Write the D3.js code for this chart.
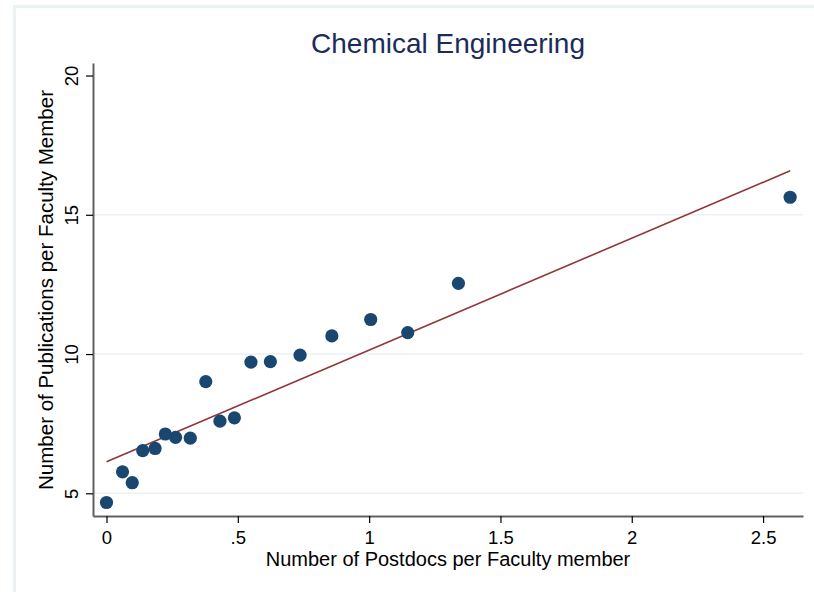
<!DOCTYPE html>
<html>
<head>
<meta charset="utf-8">
<script src="https://cdn.jsdelivr.net/npm/d3@7"></script>
<style>
  body { margin: 0; background: #fff; }
  svg { display: block; font-family: "Liberation Sans", Arial, sans-serif; }
</style>
</head>
<body>
<svg id="chart"></svg>
<script>
// postdocs per faculty member (x) and publications per faculty member (y)
const postdocs = [0, 0.061, 0.098, 0.138, 0.185, 0.224, 0.263, 0.319, 0.378, 0.432, 0.487,
                  0.55, 0.624, 0.737, 0.858, 1.006, 1.147, 1.34, 2.603];
const pubs = [4.67, 5.77, 5.38, 6.53, 6.61, 7.13, 7.01, 6.98, 9.01, 7.59, 7.71,
              9.71, 9.73, 9.96, 10.65, 11.24, 10.77, 12.54, 15.63];
// fitted line end points
const fitX = [0, 2.603];
const fitY = [6.13, 16.58];
const xTicks = [0, 0.5, 1, 1.5, 2, 2.5];
const yTicks = [5, 10, 15, 20];

const width = 814, height = 592;
const svg = d3.select("#chart").attr("width", width).attr("height", height);

// outer frame (cropped graph region border)
svg.append("rect")
   .attr("x", 14.5).attr("y", 6.5)
   .attr("width", width + 20).attr("height", height + 20)
   .attr("fill", "#fff")
   .attr("stroke", "#eaf2f3")
   .attr("stroke-width", 3);

const x = d3.scaleLinear().domain([-0.0514, 2.652]).range([93, 803]);
const y = d3.scaleLinear().domain([4.185, 20.45]).range([516, 63]);

// gridlines
svg.append("g")
   .selectAll("line")
   .data(yTicks.filter(d => d < 20))
   .enter()
   .append("line")
   .attr("x1", 93).attr("x2", 803)
   .attr("y1", d => y(d)).attr("y2", d => y(d))
   .attr("stroke", "#eaf2f3")
   .attr("stroke-width", 1.5);

const fmt = d => d === 0 ? "0" : (d < 1 ? String(d).replace(/^0/, "") : String(d));

const xAxis = svg.append("g")
   .attr("transform", "translate(0,516)")
   .call(d3.axisBottom(x).tickValues(xTicks).tickFormat(fmt).tickSize(7).tickSizeOuter(0));

const yAxis = svg.append("g")
   .attr("transform", "translate(93,0)")
   .call(d3.axisLeft(y).tickValues(yTicks).tickFormat(d3.format("d")).tickSize(7).tickSizeOuter(0));

[xAxis, yAxis].forEach(a => {
    a.select(".domain").attr("stroke", "#606060").attr("stroke-width", 2);
    a.selectAll(".tick line").attr("stroke", "#000").attr("stroke-width", 1.2);
    a.selectAll(".tick text").attr("font-size", 18.5).attr("fill", "#000")
     .attr("font-family", "Liberation Sans, Arial, sans-serif");
});

xAxis.selectAll(".tick text").attr("dy", "0.71em").attr("y", 15);

yAxis.selectAll(".tick text")
     .attr("x", null).attr("dy", null)
     .attr("text-anchor", "middle")
     .attr("transform", "translate(-15,0) rotate(-90)");

// fitted line
svg.append("line")
   .attr("x1", x(fitX[0])).attr("y1", y(fitY[0]))
   .attr("x2", x(fitX[1])).attr("y2", y(fitY[1]))
   .attr("stroke", "#90353b")
   .attr("stroke-width", 1.6);

// points
svg.append("g")
   .selectAll("circle")
   .data(postdocs.map((d, i) => [d, pubs[i]]))
   .enter()
   .append("circle")
   .attr("cx", d => x(d[0]))
   .attr("cy", d => y(d[1]))
   .attr("r", 6.6)
   .attr("fill", "#1a476f");

// titles
svg.append("text")
   .attr("x", 448).attr("y", 53)
   .attr("text-anchor", "middle")
   .attr("font-size", 28)
   .attr("fill", "#1c2b5a")
   .text("Chemical Engineering");

svg.append("text")
   .attr("x", 448).attr("y", 566)
   .attr("text-anchor", "middle")
   .attr("font-size", 20)
   .attr("fill", "#000")
   .text("Number of Postdocs per Faculty member");

svg.append("text")
   .attr("transform", "translate(53,290) rotate(-90)")
   .attr("text-anchor", "middle")
   .attr("font-size", 20.5)
   .attr("fill", "#000")
   .text("Number of Publications per Faculty Member");
</script>
</body>
</html>
